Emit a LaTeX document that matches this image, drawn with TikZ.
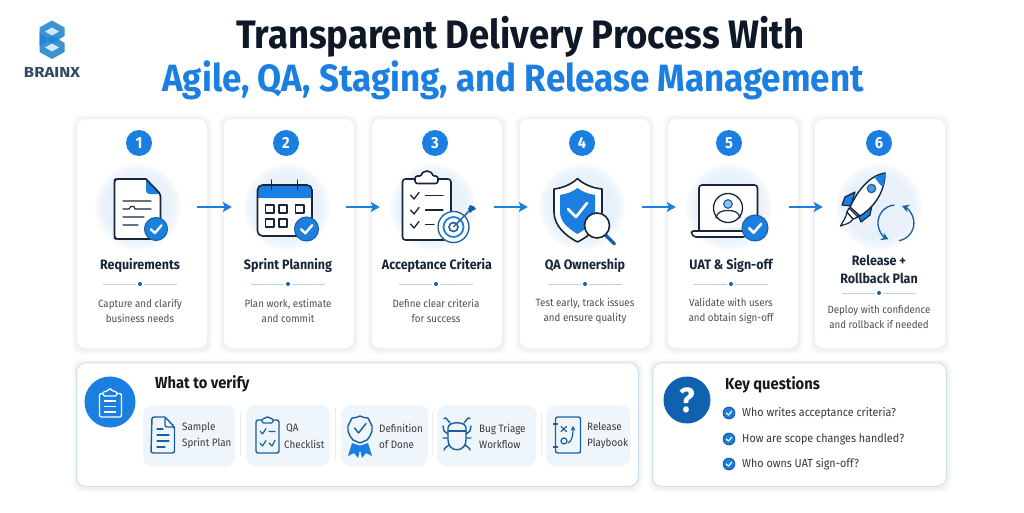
\documentclass[tikz,border=0pt]{standalone}
\usepackage{fontspec}
\setmainfont{Fira Sans}[FakeStretch=0.92]
\usetikzlibrary{arrows.meta,calc}
\definecolor{brandblue}{HTML}{1A7FE0}
\definecolor{inkdark}{HTML}{18263A}
\definecolor{titleink}{HTML}{0F1826}
\definecolor{navyline}{HTML}{1B5E9E}
\definecolor{deepblue}{HTML}{0F62B0}
\definecolor{tilefill}{HTML}{EFF6FB}
\definecolor{halofill}{HTML}{E4EFF9}
\definecolor{greytext}{HTML}{4A4F57}
\definecolor{sepblue}{HTML}{B9D2E8}
\definecolor{panelline}{HTML}{CFE2EF}
\definecolor{logoblue}{HTML}{3C93D2}
\definecolor{logonavy}{HTML}{2F4A68}
\tikzset{
  x=1pt,y=-1pt,
  cardbox/.style={draw=black!6,line width=.8pt,fill=white,rounded corners=9pt,inner sep=0,anchor=north west},
  panelbox/.style={draw=panelline,line width=1pt,fill=white,rounded corners=10pt,inner sep=0,anchor=north west},
  numdot/.style={circle,fill=brandblue,text=white,inner sep=0,minimum size=26pt,font=\fontsize{16}{16}\selectfont\bfseries},
  halodot/.style={circle,inner sep=0,minimum size=84pt},
  cardtitle/.style={align=center,inner sep=0,text=inkdark,font=\fontsize{13.6}{18}\selectfont\bfseries},
  carddesc/.style={align=center,inner sep=0,text=greytext,font=\fontsize{10.6}{14.7}\selectfont},
  flowarrow/.style={draw=brandblue,line width=2.2pt,-{Stealth[length=9pt,width=10pt,inset=2pt]}},
  ink/.style={draw=inkdark,line width=1.6pt,line join=round,line cap=round},
  navy/.style={draw=navyline,line width=1.4pt,line join=round,line cap=round},
  tilebox/.style={fill=tilefill,rounded corners=9pt,inner sep=0,anchor=north west,minimum height=61pt},
  tiletext/.style={align=left,anchor=west,inner sep=0,text=black!78,font=\fontsize{10.7}{16}\selectfont},
  qtext/.style={anchor=west,inner sep=0,text=black!78,font=\fontsize{11.7}{14}\selectfont},
  headtext/.style={anchor=west,inner sep=0,text=black!90,font=\fontsize{16}{18}\selectfont\bfseries},
}
\newcommand{\softshadow}[4]{%
  \foreach \d in {1,2,3,4,5}{%
    \fill[black,opacity=.012,rounded corners=10pt] ({#1-\d+.5},{#2-\d+1.5}) rectangle ({#3+\d+.5},{#4+\d+1.5});}}
\newcommand{\stepcard}[4]{% num, x1, numx, halox
  \softshadow{#2}{118}{#2+131}{348}
  \node[cardbox,minimum width=131pt,minimum height=230pt] (card#1) at (#2,118) {};
  \node[numdot] (num#1) at (#3,143) {#1};
  \foreach \r in {43,41,39,37,35,33,31}{\fill[halofill,opacity=.2] (#4,207) circle[radius=\r];}
  \node[halodot] (halo#1) at (#4,207) {};}
\newcommand{\septick}[2]{%
  \draw[sepblue,line width=.9pt] ({#1-37},#2) -- ({#1-4},#2) ({#1+4},#2) -- ({#1+37},#2);
  \fill[deepblue] (#1,#2) circle[radius=2];}
\newcommand{\checkbadge}[4]{% name,x,y,r
  \node[circle,fill=brandblue,draw=navyline,line width=1pt,inner sep=0,minimum size={2*#4*1pt}] (#1) at (#2,#3) {};
  \draw[white,line width={#4*.2pt},line cap=round,line join=round]
    ({#2-.45*#4},{#3+.02*#4}) -- ({#2-.1*#4},{#3+.36*#4}) -- ({#2+.48*#4},{#3-.32*#4});}
\begin{document}
\begin{tikzpicture}
\useasboundingbox (0,0) rectangle (1024,513);
\fill[white] (0,0) rectangle (1024,513);
% logo
\fill[logoblue] (52,20.5) -- (64.5,27.5) -- (64.5,36) -- (59,39.5) -- (64.5,43) -- (64.5,52) -- (52,59) -- (39.5,52) -- (39.5,27.5) -- cycle;
\fill[brandblue!75!logoblue] (39.5,33) -- (47,38) -- (47,41) -- (39.5,46) -- cycle;
\fill[brandblue!75!logoblue] (47,39.5) -- (52,36) -- (59,39.5) -- (52,44) -- cycle;
\fill[white!78!logoblue] (45,31.5) -- (52,27.5) -- (59,31.5) -- (52,35.5) -- cycle;
\fill[white!78!logoblue] (45,47.5) -- (52,43.5) -- (59,47.5) -- (52,51.5) -- cycle;
\node[inner sep=0,text=logonavy,font=\fontsize{14.5}{15}\selectfont\bfseries] (brand) at (52,72) {\scalebox{1.25}[1]{BRAINX}};
% title
\node[inner sep=0,text=titleink,font=\fontsize{39.7}{42}\selectfont\bfseries] (title1) at (520.5,37) {Transparent Delivery Process With};
\node[inner sep=0,text=brandblue,font=\fontsize{38}{40}\selectfont\bfseries] (title2) at (513,80) {Agile, QA, Staging, and Release Management};
% cards
\stepcard{1}{76}{139}{138}
\stepcard{2}{223}{286}{287}
\stepcard{3}{371}{435}{433}
\stepcard{4}{519}{582}{582}
\stepcard{5}{667}{729}{729}
\stepcard{6}{814}{879}{879}
% arrows
\draw[flowarrow,shorten <=17pt,shorten >=13pt] (halo1) -- (halo2);
\draw[flowarrow,shorten <=17pt,shorten >=11pt] (halo2) -- (halo3);
\draw[flowarrow,shorten <=19pt,shorten >=12pt] (halo3) -- (halo4);
\draw[flowarrow,shorten <=18pt,shorten >=11pt] (halo4) -- (halo5);
\draw[flowarrow,shorten <=18pt,shorten >=14pt] (halo5) -- (halo6);
% card texts
\node[cardtitle] (t1) at (140,265) {Requirements};
\node[cardtitle] (t2) at (288,265) {Sprint Planning};
\node[cardtitle] (t3) at (437,265) {Acceptance Criteria};
\node[cardtitle] (t4) at (585,265) {QA Ownership};
\node[cardtitle] (t5) at (731,265) {UAT \& Sign-off};
\node[cardtitle] (t6) at (879,269) {Release +\\Rollback Plan};
\septick{140}{284}\septick{288}{284}\septick{436}{284}\septick{585}{284}\septick{731}{284}\septick{879}{293}
\node[carddesc] (d1) at (140,311) {Capture and clarify\\business needs};
\node[carddesc] (d2) at (288,311) {Plan work, estimate\\and commit};
\node[carddesc] (d3) at (436,311) {Define clear criteria\\for success};
\node[carddesc] (d4) at (585,311) {Test early, track issues\\and ensure quality};
\node[carddesc] (d5) at (731,311) {Validate with users\\and obtain sign-off};
\node[carddesc] (d6) at (879,317) {Deploy with confidence\\and rollback if needed};
% icon 1 document
\fill[white] (114.5,179) -- (146,179) -- (160.5,194) -- (160.5,239) -- (114.5,239) -- cycle;
\fill[brandblue] (146,179) -- (160.5,194) -- (149,194) .. controls (147,194) and (146,192) .. (146,190) -- cycle;
\draw[ink,rounded corners=2pt] (146,179) -- (116,179) -- (114.5,180) -- (114.5,238) -- (116,239) -- (160.5,239) -- (160.5,194) -- (146,179);
\draw[ink,line width=1.1pt] (123,201) -- (151,201) (123,209) -- (129,209) -- (131,206.5) -- (134,206.5) -- (135,209) -- (151,209) (123,217) -- (144,217) (123,225) -- (138,225);
\checkbadge{b1}{156}{229}{11.5}
% icon 2 calendar
\fill[white,rounded corners=5pt] (257.5,185) rectangle (312,236);
\fill[brandblue,rounded corners=5pt] (257.5,185) rectangle (312,198);
\fill[brandblue] (257.5,193) rectangle (312,198);
\draw[ink,rounded corners=5pt] (257.5,185) rectangle (312,236);
\draw[ink,line width=1.2pt] (271.5,180) -- (271.5,190) (297.5,180) -- (297.5,190);
\draw[ink,line width=1.1pt] (265.5,205) rectangle (274,213) (279,205) rectangle (287,213) (295.5,205) rectangle (304,213) (265.5,219) rectangle (274,227) (279,219) rectangle (287,227);
\checkbadge{b2}{306.5}{229}{12}
% icon 3 clipboard
\fill[white] (402.5,179) rectangle (451,240);
\draw[ink,rounded corners=3pt] (402.5,179) rectangle (451,240);
\draw[ink,fill=white,rounded corners=2.5pt] (415,176) -- (422,176) arc[start angle=180,end angle=360,radius=5] -- (438,176) -- (438,183.5) -- (415,183.5) -- cycle;
\draw[ink,line width=1.3pt] (410.5,195) -- (414,199) -- (419,192.5) (410.5,210) -- (414,214) -- (419,207.5) (410.5,224) -- (414,228) -- (419,221.5);
\draw[ink,line width=1.2pt] (425.5,195.5) -- (443,195.5) (425.5,210) -- (443,210) (425.5,224.5) -- (434,224.5);
\fill[white] (453.5,227) circle[radius=16];
\draw[navyline,line width=1.3pt] (453.5,227) circle[radius=15.5];
\draw[brandblue,line width=1.8pt] (453.5,227) circle[radius=10];
\draw[navyline,line width=1.6pt] (453.5,227) circle[radius=4.5];
\draw[navyline,line width=1.3pt] (453.5,227) -- (470,210);
\fill[navyline] (468,209) -- (470,205) -- (474,206.5) -- (476,209) -- (472,211) -- (470,213) -- cycle;
% icon 4 shield
\draw[ink,fill=white] (577.5,178.5) .. controls (572,184) and (563,188) .. (554,189) -- (554,212) .. controls (554,226) and (566,236) .. (577.5,242) .. controls (589,236) and (602,226) .. (602,212) -- (602,189) .. controls (592,188) and (583,184) .. (577.5,178.5) -- cycle;
\fill[brandblue] (577.5,188) .. controls (573,191.5) and (567,194) .. (560,195) -- (560,212) .. controls (560,222) and (569,229) .. (577.5,234) .. controls (586,229) and (595,222) .. (595,212) -- (595,195) .. controls (588,194) and (582,191.5) .. (577.5,188) -- cycle;
\draw[white,line width=2.6pt,line cap=round,line join=round] (568,209) -- (576,217) -- (587,203);
\draw[navyline,line width=3.4pt,line cap=round] (605.5,235) -- (614.5,244);
\draw[ink,fill=white] (597,225.5) circle[radius=12.5];
% icon 5 laptop
\draw[ink,fill=white,rounded corners=3pt] (699,231) -- (699,185) -- (757.5,185) -- (757.5,225);
\draw[ink,fill=white,rounded corners=2pt] (691.5,231) -- (745,231) -- (745,237) -- (694,237) -- (691.5,234) -- cycle;
\draw[ink,line width=1.3pt] (728,208) circle[radius=14.5];
\draw[navyline,fill=brandblue!50,line width=1.1pt] (728,204) circle[radius=4.3];
\draw[ink,line width=1.2pt] (716,218) .. controls (717,212) and (722,210.5) .. (728,210.5) .. controls (734,210.5) and (739,212) .. (740,218);
\checkbadge{b5}{755}{228}{13}
% icon 6 rocket
\draw[ink,fill=brandblue,line width=1.2pt] (855,192) -- (845,197) -- (842,205) -- (851,206) -- cycle;
\draw[ink,fill=brandblue,line width=1.2pt] (872,205) -- (870,215) -- (861,222) -- (858,215) -- cycle;
\draw[ink,fill=white,line width=1.2pt] (847,212) .. controls (846,218) and (843,221) .. (840.5,226) .. controls (845,224) and (850,224) .. (853,219) -- cycle;
\draw[ink,fill=white,line width=1.2pt] (849,208) -- (847,212) -- (853,219) -- (858,217) -- cycle;
\draw[ink,fill=white,line width=1.4pt] (885,173) .. controls (872,175) and (860,186) .. (850,207) -- (860,216) .. controls (876,206) and (885,190) .. (885,173) -- cycle;
\fill[brandblue] (885,173.5) .. controls (881,174) and (878,175.5) .. (875,178) .. controls (878,182) and (880,185) .. (883,187.5) .. controls (884,183) and (885,178) .. (885,173.5) -- cycle;
\draw[navyline,fill=brandblue!80,line width=1.2pt] (871.5,188.5) circle[radius=4.2];
\draw[navyline,line width=1.3pt,-{Stealth[length=7pt,width=8pt,fill=brandblue]}] (894.4,205) arc[start angle=265,end angle=115,radius=18];
\draw[navyline,line width=1.3pt,-{Stealth[length=7pt,width=8pt,fill=brandblue]}] (899,240.7) arc[start angle=80,end angle=-70,radius=18];
% panels
\softshadow{76}{362}{638}{486}
\softshadow{652}{362}{946}{486}
\node[panelbox,minimum width=562pt,minimum height=124pt] (verify) at (76,362) {};
\node[panelbox,minimum width=294pt,minimum height=124pt] (keyq) at (652,362) {};
\node[circle,fill=brandblue,inner sep=0,minimum size=51pt] (verifydot) at (110,402) {};
\draw[white,line width=1.3pt,rounded corners=2pt] (103,393.5) -- (99.5,393.5) -- (99.5,417) -- (121.5,417) -- (121.5,393.5) -- (117,393.5);
\draw[white,line width=1.3pt,rounded corners=1.5pt] (103,396) -- (103,391.5) -- (107,391.5) -- (110,388) -- (113,391.5) -- (117,391.5) -- (117,396) -- cycle;
\draw[white,line width=1.3pt] (104,401) -- (116,401) (104,406.5) -- (116,406.5) (104,412) -- (116,412);
\node[headtext] (h1) at (155,384) {What to verify};
\node[tilebox,minimum width=92pt] (tile1) at (143,405) {};
\node[tilebox,minimum width=84pt] (tile2) at (246,405) {};
\node[tilebox,minimum width=87pt] (tile3) at (341,405) {};
\node[tilebox,minimum width=99pt] (tile4) at (437,405) {};
\node[tilebox,minimum width=84pt] (tile5) at (546,405) {};
\draw[black!8,line width=1pt] (240,412) -- (240,456) (335.5,408) -- (335.5,460) (432,412) -- (432,456) (541.5,412) -- (541.5,456);
\node[tiletext] (v1) at (182,436) {Sample\\Sprint Plan};
\node[tiletext] (v2a) at (286,428) {QA};
\node[tiletext] (v2) at (284,444) {Checklist};
\node[tiletext] (v3) at (379,436) {Definition\\of Done};
\node[tiletext] (v4) at (479,436) {Bug Triage\\Workflow};
\node[tiletext] (v5) at (587,436) {Release\\Playbook};
% tile icons
\draw[navy,rounded corners=2pt] (165,417) -- (152,417) -- (151,453) -- (174.5,453) -- (174.5,427) -- (165,417) -- (165,427) -- (174.5,427);
\draw[navy,line width=1.2pt] (157,429) -- (163,429) (157,435) -- (169,435) (157,441) -- (169,441) (157,447) -- (165,447);
\draw[navy,rounded corners=2pt] (262,420) -- (256,420) -- (256,453) -- (279,453) -- (279,420) -- (273,420);
\draw[navy,fill=tilefill,rounded corners=1.5pt] (262,423) -- (262,418.5) -- (265.5,418.5) -- (267.5,416) -- (269.5,418.5) -- (273,418.5) -- (273,423) -- cycle;
\draw[navy,line width=1.2pt] (260,431) -- (262.5,434) -- (266,428.5) (269,431.5) -- (275,431.5) (260,443) -- (262.5,446) -- (266,440.5) (269,443) -- (272,446) -- (275,440.5);
\fill[brandblue] (352,443) -- (348,456) -- (354,453) -- (358,458) -- (361,446) -- cycle;
\fill[brandblue] (368,443) -- (372,456) -- (366,453) -- (362,458) -- (359,446) -- cycle;
\draw[navy,fill=tilefill] (360,416) -- (364,417.5) -- (368,418) -- (370,422) -- (372,426) -- (372,431) -- (370,436) -- (367,440) -- (360,443) -- (353,440) -- (350,436) -- (348,431) -- (348,426) -- (350,422) -- (352,418) -- (356,417.5) -- cycle;
\draw[navy] (354.5,428) -- (358.5,433) -- (366,423.5);
\draw[navy] (448,428) .. controls (448,421) and (466,421) .. (466,428) -- (466,440) .. controls (466,453) and (448,453) .. (448,440) -- cycle;
\draw[navy] (448,431) -- (466,431);
\draw[navy] (450,423) -- (446,418) -- (444,418.5) (464,423) -- (468,418) -- (470,418.5)
  (448,434) -- (444,431) -- (443,426) (466,434) -- (470,431) -- (471,426)
  (448,438) -- (443,438) (466,438) -- (471,438)
  (449,445) -- (445,448) -- (444,450) (465,445) -- (469,448) -- (470,450);
\draw[navy,rounded corners=2pt] (555.5,417) rectangle (580.5,453);
\draw[navy,line width=1.1pt] (553.5,424) -- (557.5,424) (553.5,447) -- (557.5,447);
\draw[navy,line width=1.2pt] (561,426.5) -- (566.5,431.5) (566.5,426.5) -- (561,431.5);
\draw[navy,line width=1.2pt] (564,441) circle[radius=3];
\draw[navy,line width=1.2pt,-{Stealth[length=4.5pt,width=5pt]}] (568,443) .. controls (572,441) and (573,436) .. (573,426);
% key questions
\node[circle,fill=deepblue,text=white,inner sep=0,minimum size=47pt,font=\fontsize{35}{35}\selectfont\bfseries] (qdot) at (687,400) {?};
\node[headtext] (h2) at (725,385) {Key questions};
\checkbadge{c1}{729}{413}{5.8}
\checkbadge{c2}{729}{439}{5.8}
\checkbadge{c3}{729}{464}{5.8}
\node[qtext] (q1) at (742,413) {Who writes acceptance criteria?};
\node[qtext] (q2) at (742,439) {How are scope changes handled?};
\node[qtext] (q3) at (742,464) {Who owns UAT sign-off?};
\end{tikzpicture}
\end{document}
